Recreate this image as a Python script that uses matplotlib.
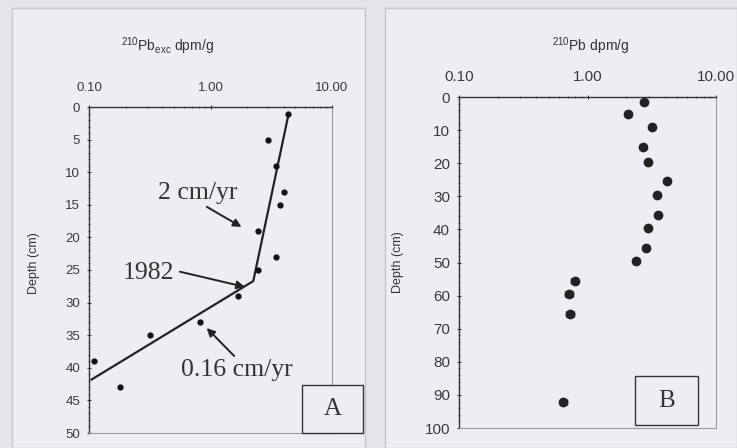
import numpy as np
import matplotlib
matplotlib.use("Agg")
import matplotlib.pyplot as plt
from matplotlib.patches import Rectangle
from matplotlib.ticker import FixedLocator, FixedFormatter, MultipleLocator, LogLocator, NullFormatter

# 資料 (A)
pb_exc = [4.36, 2.99, 3.46, 4.0, 3.73, 2.44, 3.46, 2.44, 1.68, 0.82, 0.32, 0.11, 0.18]
depth_a = [1, 5, 9, 13, 15, 19, 23, 25, 29, 33, 35, 39, 43]
fit_x = [4.4, 2.25, 0.105]
fit_y = [1, 26.7, 41.8]

# 資料 (B)
pb_tot = [2.75, 2.07, 3.19, 2.69, 2.97, 4.14, 3.49, 3.52, 2.96, 2.84, 2.38, 0.80, 0.72, 0.73, 0.65]
depth_b = [1.4, 5, 9, 15, 19.5, 25.5, 29.5, 35.5, 39.5, 45.5, 49.5, 55.5, 59.5, 65.5, 92]
err_b = [0.12, 0.1, 0.12, 0.12, 0.12, 0.15, 0.15, 0.12, 0.12, 0.12, 0.1, 0.05, 0.05, 0.05, 0.04]

x_ticks = [0.1, 1, 10]
x_labels = ["0.10", "1.00", "10.00"]

plt.rcParams["font.family"] = ["Liberation Sans", "DejaVu Sans"]
plt.rcParams["mathtext.default"] = "regular"

W, H = 737, 448
fig = plt.figure(figsize=(W / 100, H / 100), dpi=100, facecolor="#e3e5eb")

# 面板底色
for x0, x1 in [(12, 365), (385, 737)]:
    fig.patches.append(Rectangle((x0 / W, 0), (x1 - x0) / W, 1 - 8 / H, transform=fig.transFigure,
                                 facecolor="#eceef3", edgecolor="#c5c7cd", lw=1.0, zorder=-5))


def setup(ax, ymax, major, minor, title, title_x, ylabel_x, xfs, yfs, ylab_y):
    ax.set_facecolor("none")
    ax.set_xscale("log")
    ax.set_xlim(0.1, 10)
    ax.set_ylim(ymax, 0)
    ax.xaxis.tick_top()
    ax.xaxis.set_major_locator(FixedLocator(x_ticks))
    ax.xaxis.set_major_formatter(FixedFormatter(x_labels))
    ax.xaxis.set_minor_locator(LogLocator(base=10, subs=np.arange(2, 10)))
    ax.xaxis.set_minor_formatter(NullFormatter())
    ax.yaxis.set_major_locator(MultipleLocator(major))
    ax.yaxis.set_minor_locator(MultipleLocator(minor))
    ax.tick_params(axis="both", which="major", length=3, width=0.8,
                   direction="inout", colors="#333333", labelcolor="#3a3a3a", pad=5)
    ax.tick_params(axis="both", which="minor", length=2, width=0.6, direction="inout", colors="#555555")
    ax.tick_params(axis="x", labelsize=xfs, pad=8)
    ax.tick_params(axis="y", labelsize=yfs)
    for s in ["top", "left"]:
        ax.spines[s].set_color("#333333")
        ax.spines[s].set_linewidth(1.0)
    for s in ["right", "bottom"]:
        ax.spines[s].set_color("#9a9ca2")
        ax.spines[s].set_linewidth(0.8)
    fig.text(title_x / W, 1 - 46 / H, title, ha="center", va="center", fontsize=10, color="#333333")
    ax.set_ylabel("Depth (cm)", fontsize=9, color="#333333")
    pos = ax.get_position()
    ax.yaxis.set_label_coords((ylabel_x / W - pos.x0) / pos.width, ylab_y)


# 面板 A
axA = fig.add_axes([89 / W, 1 - 433 / H, (332 - 89) / W, (433 - 107) / H])
setup(axA, 50, 5, 1, r"$^{210}$Pb$_{exc}$ dpm/g", 167, 40, 9.5, 9.5, 0.52)
axA.plot(pb_exc, depth_a, "o", color="#111111", ms=3.5, clip_on=False, zorder=3)
axA.plot(fit_x, fit_y, "-", color="#222222", lw=1.6, zorder=2)

serif = ["Liberation Serif", "DejaVu Serif"]
axA.annotate("2 cm/yr", xy=(1.8, 18.4), xytext=(0.79, 13.2), ha="center", va="center",
             fontsize=18.5, family=serif, color="#333333",
             arrowprops=dict(arrowstyle="-|>", color="#222222", lw=1.4, mutation_scale=12,
                             shrinkA=0, shrinkB=0, relpos=(0.55, 0)))
axA.annotate("1982", xy=(1.92, 27.6), xytext=(0.31, 25.4), ha="center", va="center",
             fontsize=18.5, family=serif, color="#333333",
             arrowprops=dict(arrowstyle="-|>", color="#222222", lw=1.4, mutation_scale=12,
                             shrinkA=2, shrinkB=0, relpos=(1, 0.6)))
axA.annotate("0.16 cm/yr", xy=(0.93, 33.9), xytext=(1.65, 40.3), ha="center", va="center",
             fontsize=18.5, family=serif, color="#333333",
             arrowprops=dict(arrowstyle="-|>", color="#222222", lw=1.4, mutation_scale=12,
                             shrinkA=0, shrinkB=0, relpos=(0.5, 1)))

# 面板 B
axB = fig.add_axes([459 / W, 1 - 428 / H, (716 - 459) / W, (428 - 97) / H])
setup(axB, 100, 10, 2, r"$^{210}$Pb dpm/g", 591, 404, 11, 11, 0.5)
axB.errorbar(pb_tot, depth_b, xerr=err_b, fmt="o", color="#222222", ms=6, capsize=2,
             elinewidth=1.0, capthick=1.0, clip_on=False, zorder=3)

# 標籤方框
for label, x0, x1, y0, y1 in [("A", 302, 363, 385, 433), ("B", 635, 698, 376, 425)]:
    fig.patches.append(Rectangle((x0 / W, 1 - y1 / H), (x1 - x0) / W, (y1 - y0) / H,
                                 transform=fig.transFigure, facecolor="#eceef3",
                                 edgecolor="#333333", lw=1.0, zorder=5))
    fig.text((x0 + x1) / 2 / W, 1 - (y0 + y1) / 2 / H, label, ha="center", va="center",
             fontsize=18, family=serif, color="#333333", zorder=6)

plt.savefig("out.png", dpi=100, facecolor=fig.get_facecolor())
